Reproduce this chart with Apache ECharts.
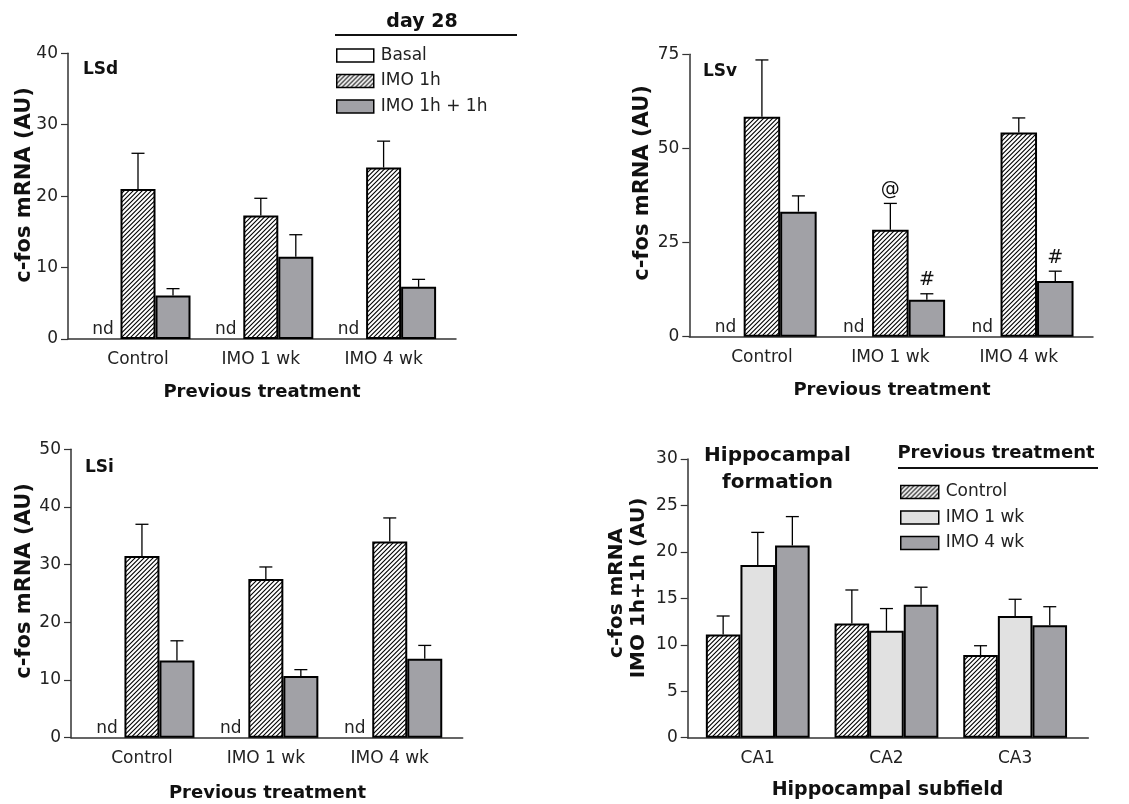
<!DOCTYPE html>
<html><head><meta charset="utf-8">
<script src="https://cdn.jsdelivr.net/npm/echarts@6/dist/echarts.min.js"></script>
<style>html,body{margin:0;padding:0;background:#fff}#c{width:1129px;height:804px}</style>
</head><body><div id="c"></div>
<script>
// ---------- DATA ----------
const treatments = ['Control', 'IMO 1 wk', 'IMO 4 wk'];
const subfields = ['CA1', 'CA2', 'CA3'];
const stressNames = ['Basal', 'IMO 1h', 'IMO 1h + 1h'];
const prevNames = ['Control', 'IMO 1 wk', 'IMO 4 wk'];
const ndText = 'nd';

// LSd
const lsdBasal = [0, 0, 0];           // not detected
const lsdImo1h = [21.0, 17.3, 24.0];
const lsdImo1hSem = [5.0, 2.4, 3.7];
const lsdImo1h1h = [6.1, 11.5, 7.3];
const lsdImo1h1hSem = [0.95, 3.1, 1.05];
const lsdTicks = [0, 10, 20, 30, 40];

// LSv
const lsvBasal = [0, 0, 0];
const lsvImo1h = [58.4, 28.4, 54.2];
const lsvImo1hSem = [15.1, 7.0, 3.9];
const lsvImo1h1h = [33.2, 9.8, 14.8];
const lsvImo1h1hSem = [4.2, 1.6, 2.6];
const lsvMarks1h = ['', '@', ''];
const lsvMarks1h1h = ['', '#', '#'];
const lsvTicks = [0, 25, 50, 75];

// LSi
const lsiBasal = [0, 0, 0];
const lsiImo1h = [31.5, 27.5, 34.0];
const lsiImo1hSem = [5.5, 2.1, 4.1];
const lsiImo1h1h = [13.4, 10.7, 13.7];
const lsiImo1h1hSem = [3.4, 1.1, 2.3];
const lsiTicks = [0, 10, 20, 30, 40, 50];

// Hippocampal formation (IMO 1h+1h)
const hipControl = [11.1, 12.3, 8.9];
const hipControlSem = [2.0, 3.6, 1.0];
const hipImo1wk = [18.6, 11.5, 13.1];
const hipImo1wkSem = [3.5, 2.4, 1.8];
const hipImo4wk = [20.7, 14.3, 12.1];
const hipImo4wkSem = [3.1, 1.9, 2.0];
const hipTicks = [0, 5, 10, 15, 20, 25, 30];

// ---------- STYLE ----------
const FONT = 'DejaVu Sans';
const FS = 17;
const DARK = '#a1a1a6', LIGHT = '#e1e1e1';
function hatchCanvas() {
  const s = 9, c = document.createElement('canvas');
  c.width = s; c.height = s;
  const g = c.getContext('2d');
  g.fillStyle = '#fff'; g.fillRect(0, 0, s, s);
  g.strokeStyle = '#000'; g.lineWidth = 1.1; g.beginPath();
  [0, 4.5, 9, 13.5, 18].forEach(k => { g.moveTo(k + 1, -1); g.lineTo(k - s - 1, s + 1); });
  g.stroke();
  return c;
}
const HATCH = { image: hatchCanvas(), repeat: 'repeat' };
const WHITE = '#ffffff';

const legendCommon = { orient: 'vertical', itemHeight: 13, itemGap: 8.5, padding: 0,
  icon: 'rect', selectedMode: false, itemStyle: { borderColor: '#000', borderWidth: 1.5 },
  textStyle: { fontFamily: FONT, fontSize: FS, color: '#222', lineHeight: 17, padding: [0, 0, 0, 2] } };

const option = {
  animation: false,
  backgroundColor: '#fff',
  grid: [], xAxis: [], yAxis: [], series: [], graphic: [],
  legend: [
    Object.assign({ data: stressNames, left: 336, top: 47, itemWidth: 37 }, legendCommon),
    Object.assign({ data: prevNames, left: 900, top: 483.5, itemWidth: 38 }, legendCommon)
  ]
};

function addPanel(p) {
  const gA = option.grid.length, gB = gA + 1;
  const [l, t, w, h] = p.axisBox;
  const ticks = p.ticks;
  const ymin = ticks[0], ymax = ticks[ticks.length - 1], step = ticks[1] - ticks[0];
  option.grid.push({ left: l, top: t, width: w, height: h });
  option.grid.push({ left: p.barBox[0], top: t, width: p.barBox[1], height: h });
  option.xAxis.push({ gridIndex: gA, type: 'value', min: 0, max: 1, axisLine: { show: true, lineStyle: { color: '#333', width: 1.5 } },
    axisTick: { show: false }, axisLabel: { show: false }, splitLine: { show: false } });
  option.yAxis.push({ gridIndex: gA, type: 'value', min: ymin, max: ymax, interval: step,
    axisLine: { show: true, lineStyle: { color: '#333', width: 1.5 } },
    axisTick: { show: true, length: 7, lineStyle: { color: '#333', width: 1.2 } },
    axisLabel: { margin: 10, fontFamily: FONT, fontSize: FS, color: '#222' }, splitLine: { show: false } });
  option.xAxis.push({ gridIndex: gB, type: 'category', data: p.cats, axisLine: { show: false }, axisTick: { show: false },
    axisLabel: { margin: 12, fontFamily: FONT, fontSize: FS, color: '#222' } });
  option.yAxis.push({ gridIndex: gB, type: 'value', min: ymin, max: ymax, show: false });

  const n = p.series.length;
  p.series.forEach((s, k) => {
    option.series.push({
      type: 'bar', name: s.name, xAxisIndex: gB, yAxisIndex: gB, data: s.data,
      barWidth: p.barW, barGap: '0%', z: 2,
      itemStyle: { color: s.color, borderColor: '#000', borderWidth: s.nd ? 0 : 2 },
      label: s.nd ? { show: true, position: 'top', distance: 1, formatter: s.nd, fontFamily: FONT, fontSize: FS, color: '#222' } : { show: false }
    });
    if (s.sem) {
      const off = (k - (n - 1) / 2) * p.barW;
      const marks = s.marks;
      option.series.push({
        type: 'custom', xAxisIndex: gB, yAxisIndex: gB, z: 5, silent: true,
        data: s.data.map((v, i) => [i, v, s.sem[i]]),
        encode: { x: 0, y: 1 },
        renderItem: (params, api) => {
          const ci = api.value(0), v = api.value(1), e = api.value(2);
          const b = api.coord([ci, v]), tp = api.coord([ci, v + e]);
          const x = b[0] + off, cap = 13;
          const ch = [
            { type: 'line', shape: { x1: x, y1: b[1], x2: x, y2: tp[1] }, style: { stroke: '#000', lineWidth: 1.3 } },
            { type: 'line', shape: { x1: x - cap / 2, y1: tp[1], x2: x + cap / 2, y2: tp[1] }, style: { stroke: '#000', lineWidth: 1.3 } }
          ];
          const m = marks && marks[params.dataIndex];
          if (m) ch.push({ type: 'text', style: { text: m, x: x, y: tp[1] - 4, align: 'center', verticalAlign: 'bottom',
            fontFamily: FONT, fontSize: 19, fill: '#111' } });
          return { type: 'group', children: ch };
        }
      });
    }
  });
}

// Panel LSd
addPanel({ axisBox: [68, 53.3, 388, 285.7], barBox: [76.6, 368.4], barW: 35, ticks: lsdTicks, cats: treatments,
  series: [
    { name: stressNames[0], data: lsdBasal, color: WHITE, nd: ndText },
    { name: stressNames[1], data: lsdImo1h, sem: lsdImo1hSem, color: HATCH },
    { name: stressNames[2], data: lsdImo1h1h, sem: lsdImo1h1hSem, color: DARK }
  ] });
// Panel LSv
addPanel({ axisBox: [689.3, 54.3, 403.7, 282.4], barBox: [697.7, 385.3], barW: 36.5, ticks: lsvTicks, cats: treatments,
  series: [
    { name: stressNames[0], data: lsvBasal, color: WHITE, nd: ndText },
    { name: stressNames[1], data: lsvImo1h, sem: lsvImo1hSem, color: HATCH, marks: lsvMarks1h },
    { name: stressNames[2], data: lsvImo1h1h, sem: lsvImo1h1hSem, color: DARK, marks: lsvMarks1h1h }
  ] });
// Panel LSi
addPanel({ axisBox: [71, 449.3, 391.7, 288.4], barBox: [80, 371.7], barW: 35, ticks: lsiTicks, cats: treatments,
  series: [
    { name: stressNames[0], data: lsiBasal, color: WHITE, nd: ndText },
    { name: stressNames[1], data: lsiImo1h, sem: lsiImo1hSem, color: HATCH },
    { name: stressNames[2], data: lsiImo1h1h, sem: lsiImo1h1hSem, color: DARK }
  ] });
// Panel Hippocampus
addPanel({ axisBox: [687.7, 459, 400.6, 278.7], barBox: [693.4, 386.1], barW: 34.6, ticks: hipTicks, cats: subfields,
  series: [
    { name: prevNames[0], data: hipControl, sem: hipControlSem, color: HATCH },
    { name: prevNames[1], data: hipImo1wk, sem: hipImo1wkSem, color: LIGHT },
    { name: prevNames[2], data: hipImo4wk, sem: hipImo4wkSem, color: DARK }
  ] });

// ---------- TEXT ----------
function txt(s, x, y, size, opts) {
  opts = opts || {};
  option.graphic.push({ type: 'text', x: x, y: y, rotation: opts.rot || 0, z: 10,
    style: { text: s, x: 0, y: 0, align: opts.align || 'center', verticalAlign: 'middle',
      fontFamily: FONT, fontWeight: opts.bold === false ? 'normal' : 'bold', fontSize: size, fill: '#111' } });
}
function hline(x1, x2, y) {
  option.graphic.push({ type: 'line', z: 10, shape: { x1: x1, y1: y, x2: x2, y2: y }, style: { stroke: '#111', lineWidth: 2 } });
}
const R = Math.PI / 2;
// LSd
txt('c-fos mRNA (AU)', 25, 185, 21, { rot: R });
txt('LSd', 83, 70, 17, { align: 'left' });
txt('day 28', 422, 22, 19);
hline(335, 517, 35);
txt('Previous treatment', 262, 392, 18);
// LSv
txt('c-fos mRNA (AU)', 643, 183, 21, { rot: R });
txt('LSv', 703, 72, 17, { align: 'left' });
txt('Previous treatment', 892, 390, 18);
// LSi
txt('c-fos mRNA (AU)', 25, 581, 21, { rot: R });
txt('LSi', 85, 468, 17, { align: 'left' });
txt('Previous treatment', 267.5, 793, 18);
// Hippocampus
txt('c-fos mRNA', 617, 593, 20, { rot: R });
txt('IMO 1h+1h (AU)', 638.5, 588, 20, { rot: R });
txt('Hippocampal', 777.5, 456, 20);
txt('formation', 777.5, 483, 20);
txt('Previous treatment', 996, 453, 18);
hline(898, 1098, 468);
txt('Hippocampal subfield', 887.5, 790, 19);

const chart = echarts.init(document.getElementById('c'), null, { renderer: 'canvas' });
chart.setOption(option);
</script>
</body></html>
